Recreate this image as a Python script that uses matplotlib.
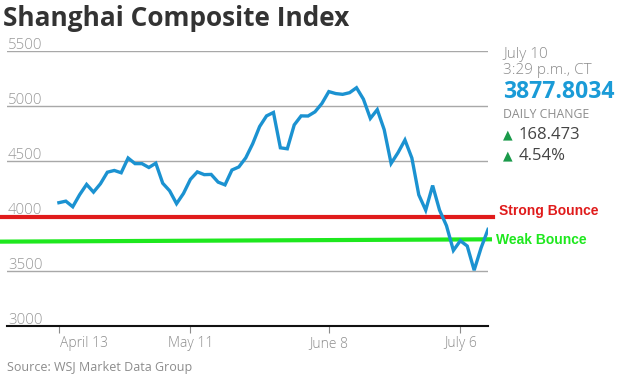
import matplotlib.pyplot as plt

plt.rcParams["font.family"] = ["Open Sans", "DejaVu Sans"]

# Shanghai Composite close, trading days April 13 - July 10 (2015)
closes = [4121, 4135, 4084, 4194, 4287, 4217, 4293, 4398, 4414, 4393,
          4527, 4476, 4476, 4441, 4480, 4298, 4229, 4112, 4205, 4333,
          4401, 4376, 4378, 4308, 4283, 4418, 4446, 4529, 4657, 4813,
          4910, 4941, 4620, 4611, 4828, 4910, 4909, 4947, 5023, 5131,
          5113, 5106, 5121, 5166, 5062, 4887, 4967, 4785, 4478, 4576,
          4691, 4527, 4192, 4053, 4277, 4053, 3912, 3687, 3775, 3727,
          3507, 3710, 3878]
tick_pos = [0, 19, 39, 58]
tick_labels = ["April 13", "May 11", "June 8", "July 6"]
y_ticks = [3000, 3500, 4000, 4500, 5000, 5500]

strong_level = 3995
weak_level = [3767, 3788]

blue = "#1b92d1"
grey = "#8c8c8c"

fig = plt.figure(figsize=(6.25, 3.82), dpi=100)
ax = fig.add_axes([7 / 625, 56 / 382, 481 / 625, 275 / 382])

ax.plot(range(len(closes)), closes, color=blue, lw=2.4, solid_joinstyle="miter", zorder=3)
ax.set_xlim(-7.5, 62)
ax.set_ylim(3000, 5500)

ax.set_yticks(y_ticks)
ax.set_yticklabels([])
ax.tick_params(axis="y", length=0)
ax.grid(axis="y", color="#a8a8a8", lw=1)
for v in y_ticks:
    ax.text(0.002, v + 20, str(v), transform=ax.get_yaxis_transform(),
            color="#999999", fontsize=10.8, fontweight="light", va="baseline", ha="left")

ax.set_xticks(tick_pos)
ax.set_xticklabels([])
ax.tick_params(axis="x", length=5, color=grey, width=0.8)
for i, (p, lab) in enumerate(zip(tick_pos, tick_labels)):
    ax.text(p + (0.15 if i == 0 else 0), 2905, lab, color=grey, fontsize=10,
            fontweight="light", ha="left" if i == 0 else "center", va="top")

for s in ["top", "left", "right"]:
    ax.spines[s].set_visible(False)
ax.spines["bottom"].set_color("#111111")
ax.spines["bottom"].set_linewidth(1.5)

# bounce levels
ytr = ax.get_yaxis_transform()
ax.plot([-0.0125, 1.0104], [strong_level, strong_level], color="#e01b1b", lw=3.0,
        transform=ytr, clip_on=False, zorder=2)
ax.plot([-0.0125, 1.004], weak_level, color="#1ee81e", lw=3.0,
        transform=ytr, clip_on=False, zorder=2)
fig.text(499 / 625, 1 - 211 / 382, "Strong Bounce", color="#e01b1b", fontsize=10,
         fontweight="bold", family="Liberation Sans", va="center", ha="left")
fig.text(496 / 625, 1 - 240 / 382, "Weak Bounce", color="#1ee81e", fontsize=10,
         fontweight="bold", family="Liberation Sans", va="center", ha="left")

# title and side panel
fig.text(3 / 625, 1 - 19 / 382, "Shanghai Composite Index", color="#333333",
         fontsize=18.9, fontweight="bold", va="center", ha="left")
px = 503 / 625
fig.text(px, 1 - 55 / 382, "July 10", color=grey, fontsize=11, fontweight="light", va="center")
fig.text(px, 1 - 71 / 382, "3:29 p.m., CT", color=grey, fontsize=11, fontweight="light", va="center")
fig.text(px, 1 - 92 / 382, "3877.8034", color="#1a9bd7", fontsize=16.6, fontweight="bold", va="center")
fig.text(px, 1 - 115 / 382, "DAILY CHANGE", color=grey, fontsize=8.8, va="center")
fig.text(px, 1 - 135 / 382, "▲", color="#1a9a4a", fontsize=9, va="center", family="DejaVu Sans")
fig.text(px + 16 / 625, 1 - 135 / 382, "168.473", color="#444444", fontsize=12, va="center")
fig.text(px, 1 - 156 / 382, "▲", color="#1a9a4a", fontsize=9, va="center", family="DejaVu Sans")
fig.text(px + 16 / 625, 1 - 156 / 382, "4.54%", color="#444444", fontsize=12, va="center")

fig.text(7 / 625, 1 - 368 / 382, "Source: WSJ Market Data Group", color=grey,
         fontsize=9, va="center", ha="left")

plt.savefig("out.png", dpi=100)
